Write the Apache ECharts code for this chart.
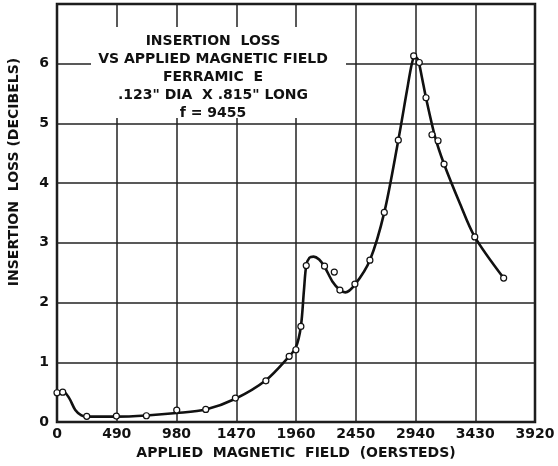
<!DOCTYPE html>
<html>
<head>
<meta charset="UTF-8">
<script src="https://cdn.jsdelivr.net/npm/echarts@6/dist/echarts.min.js"></script>
<style>
    html, body { margin: 0; padding: 0; background: #fff; }
    #chart { width: 558px; height: 466px; }
</style>
</head>
<body>
<div id="chart"></div>
<script>
    // measured points (circles)
    var fieldPts = [0, 47, 244, 487, 733, 982, 1220, 1463, 1713, 1904, 1959, 2000, 2044, 2194, 2274, 2320, 2443, 2566, 2684, 2799, 2925, 2971, 3026, 3075, 3125, 3174, 3426, 3663];
    var lossPts  = [0.49, 0.50, 0.095, 0.10, 0.105, 0.20, 0.21, 0.40, 0.69, 1.10, 1.21, 1.60, 2.62, 2.61, 2.51, 2.21, 2.31, 2.71, 3.51, 4.72, 6.13, 6.02, 5.43, 4.81, 4.71, 4.32, 3.10, 2.41];

    // drawn curve
    var curveField = [0, 47, 100, 150, 200, 244, 490, 733, 980, 1220, 1463, 1713, 1904, 1959, 2000, 2025, 2044, 2070, 2104, 2150, 2194, 2260, 2320, 2364, 2443, 2566, 2684, 2799, 2870, 2910, 2935, 2960, 2990, 3026, 3100, 3174, 3300, 3426, 3663];
    var curveLoss  = [0.50, 0.52, 0.40, 0.20, 0.11, 0.09, 0.09, 0.11, 0.15, 0.21, 0.39, 0.70, 1.10, 1.25, 1.60, 2.20, 2.62, 2.75, 2.77, 2.72, 2.60, 2.35, 2.21, 2.17, 2.30, 2.71, 3.51, 4.72, 5.55, 6.00, 6.12, 6.07, 5.80, 5.43, 4.78, 4.32, 3.68, 3.10, 2.41];

    var titleLines = ['INSERTION  LOSS', 'VS APPLIED MAGNETIC FIELD', 'FERRAMIC  E', '.123" DIA  X .815" LONG', 'f = 9455'];

    var font = 'DejaVu Sans';
    var chart = echarts.init(document.getElementById('chart'));

    var pts = [], curve = [];
    for (var i = 0; i < fieldPts.length; i++) pts.push([fieldPts[i], lossPts[i]]);
    for (var j = 0; j < curveField.length; j++) curve.push([curveField[j], curveLoss[j]]);

    var option = {
        backgroundColor: '#fff',
        animation: false,
        grid: {
            left: 57, right: 23, top: 4, bottom: 44,
            show: true, borderColor: '#111', borderWidth: 2.5
        },
        xAxis: {
            type: 'value', min: 0, max: 3920, interval: 490,
            name: 'APPLIED  MAGNETIC  FIELD  (OERSTEDS)',
            nameLocation: 'middle', nameGap: 20,
            nameTextStyle: { fontFamily: font, fontWeight: 'bold', fontSize: 14, color: '#111' },
            axisLine: { show: false },
            axisTick: { show: false },
            axisLabel: {
                fontFamily: font, fontWeight: 'bold', fontSize: 14, color: '#111', margin: 5,
                formatter: function (v) { return String(v); }
            },
            splitLine: { show: true, lineStyle: { color: '#222', width: 1.5 } }
        },
        yAxis: {
            type: 'value', min: 0, max: 7, interval: 1,
            axisLine: { show: false },
            axisTick: { show: false },
            axisLabel: {
                fontFamily: font, fontWeight: 'bold', fontSize: 14, color: '#111', margin: 8,
                formatter: function (v) { return v === 7 ? '' : String(v); }
            },
            splitLine: { show: true, lineStyle: { color: '#222', width: 1.5 } }
        },
        graphic: [
            { type: 'rect', z: 1, shape: { x: 91, y: 27, width: 255, height: 91 }, style: { fill: '#fff' } },
            {
                type: 'text', z: 3, x: 14, y: 172, rotation: Math.PI / 2,
                style: {
                    text: 'INSERTION  LOSS (DECIBELS)', fontFamily: font, fontWeight: 'bold', fontSize: 14,
                    fill: '#111', align: 'center', verticalAlign: 'middle'
                }
            },
            {
                type: 'text', z: 3, x: 213, y: 32,
                style: {
                    text: titleLines.join('\n'), fontFamily: font, fontWeight: 'bold', fontSize: 14,
                    lineHeight: 18, fill: '#111', align: 'center'
                }
            }
        ],
        series: [
            {
                type: 'line', data: curve, smooth: 0.3, symbol: 'none', z: 2,
                lineStyle: { color: '#111', width: 2.6 }
            },
            {
                type: 'scatter', data: pts, symbol: 'circle', symbolSize: 6, z: 4,
                itemStyle: { color: '#fff', borderColor: '#111', borderWidth: 1.2, opacity: 1 }
            }
        ]
    };
    chart.setOption(option);
</script>
</body>
</html>
